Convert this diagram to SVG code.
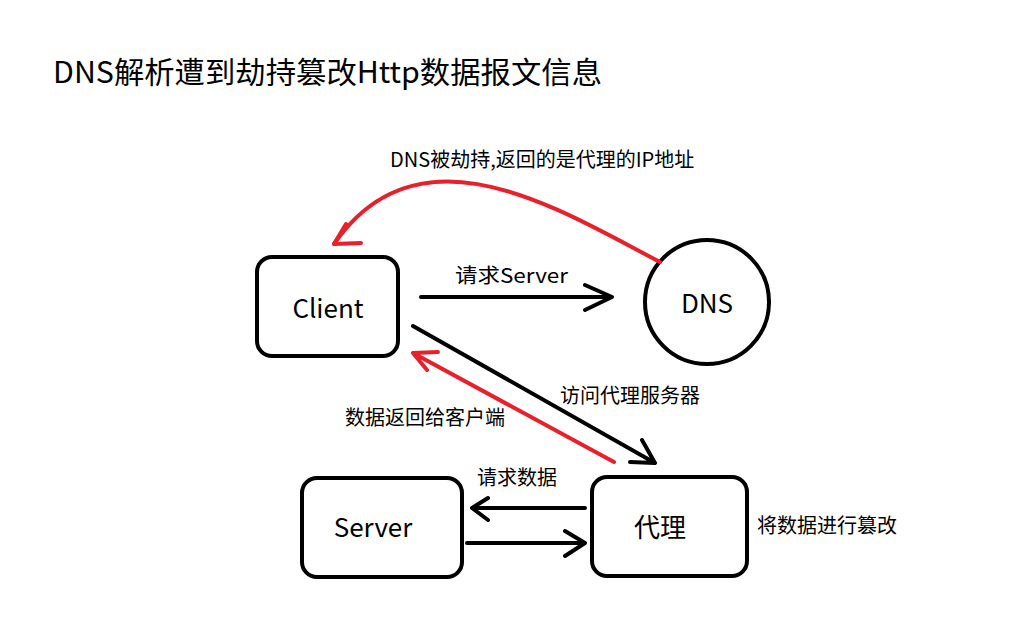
<svg xmlns="http://www.w3.org/2000/svg" width="1028" height="643" viewBox="0 0 1028 643">
<style>
text{font-family:"Microsoft YaHei","Noto Sans CJK SC","Noto Sans",sans-serif;fill:#000}
.box{fill:#fff;stroke:#000;stroke-width:4}
.blk{fill:none;stroke:#000;stroke-width:4;stroke-linecap:round;stroke-linejoin:round}
.red{fill:none;stroke:#e8202a;stroke-width:4;stroke-linecap:round;stroke-linejoin:round}
.lbl{font-size:20px}
.nd{font-size:26px}
</style>
<rect width="1028" height="643" fill="#fff"/>
<text x="53" y="83" font-size="30" textLength="549" lengthAdjust="spacingAndGlyphs">DNS解析遭到劫持篡改Http数据报文信息</text>
<g id="client"><rect class="box" x="257" y="257" width="141" height="99" rx="15"/><text class="nd" x="328" y="318" text-anchor="middle">Client</text></g>
<g id="dns"><circle class="box" cx="707" cy="302" r="62"/><text class="nd" x="707" y="313" text-anchor="middle">DNS</text></g>
<g id="server"><rect class="box" x="302" y="478" width="160" height="99" rx="15"/><text class="nd" x="373" y="537" text-anchor="middle">Server</text></g>
<g id="proxy"><rect class="box" x="592" y="477" width="155" height="99" rx="15"/><text class="nd" x="660" y="537" text-anchor="middle" font-size="27">代理</text></g>
<g id="connectors">
<path class="red" d="M660 262 C560 210 420 120 334 244"/>
<path class="red" d="M346 224 L334 244 L361 243"/>
<path class="blk" d="M421 297 H612 M585 285 L612 297 L585 310"/>
<path class="blk" d="M413 326 L655 463 M642 440 L655 463 L630 462"/>
<path class="red" d="M614 462 L413 353 M438 352 L413 353 L427 370"/>
<path class="blk" d="M585 508 H472 M488 498 L472 508 L488 520"/>
<path class="blk" d="M467 543 H585 M565 531 L585 543 L565 556"/>
</g>
<text class="lbl" x="390" y="167">DNS被劫持,返回的是代理的IP地址</text>
<text class="lbl" x="455" y="283" font-size="21" textLength="113" lengthAdjust="spacingAndGlyphs">请求Server</text>
<text class="lbl" x="560" y="403">访问代理服务器</text>
<text class="lbl" x="345" y="425">数据返回给客户端</text>
<text class="lbl" x="477" y="485">请求数据</text>
<text class="lbl" x="757" y="533">将数据进行篡改</text>
</svg>
